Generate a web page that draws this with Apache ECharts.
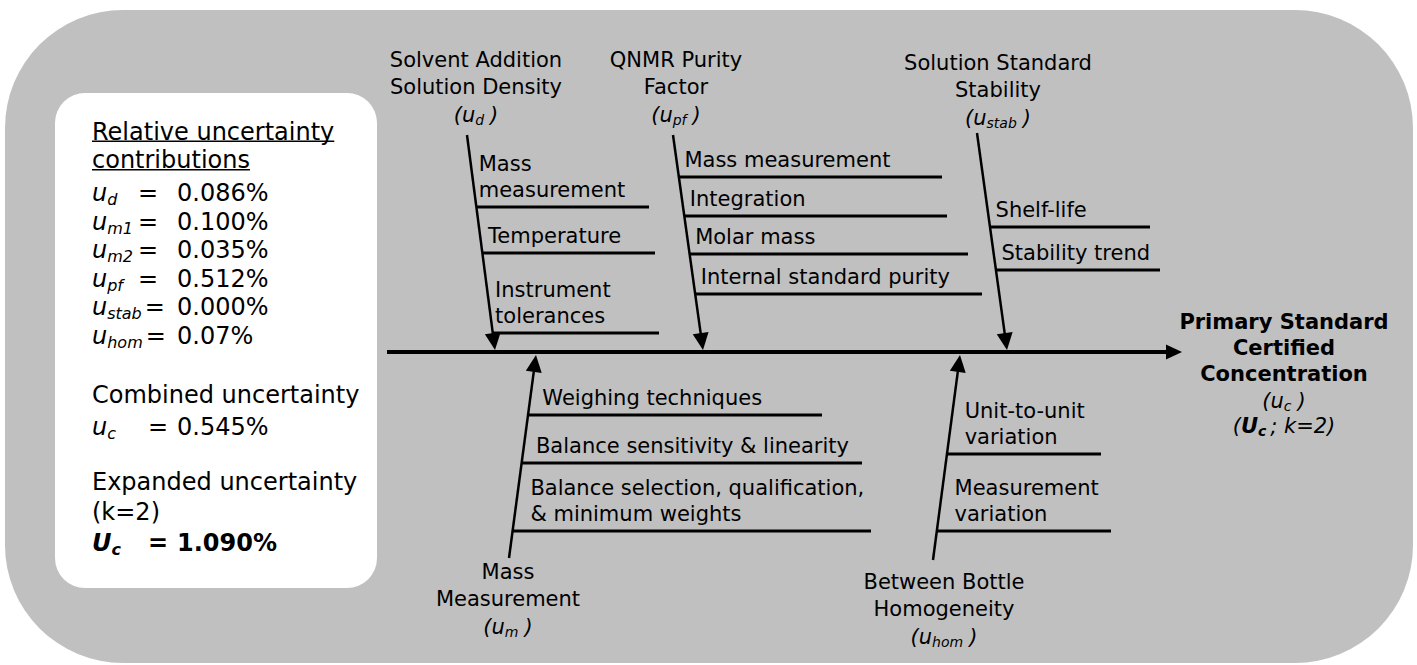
<!DOCTYPE html>
<html>
<head>
<meta charset="utf-8">
<script src="https://cdn.jsdelivr.net/npm/echarts@6.0.0/dist/echarts.min.js"></script>
<style>
html, body { margin: 0; padding: 0; background: #fff; }
#main { width: 1417px; height: 665px; }
</style>
</head>
<body>
<div id="main"></div>
<script>
// ---------- data ----------
var branchNames = [
  ['Solvent Addition', 'Solution Density'],
  ['QNMR Purity', 'Factor'],
  ['Solution Standard', 'Stability'],
  ['Mass', 'Measurement'],
  ['Between Bottle', 'Homogeneity']
];
var branchSymbols = ['d', 'pf', 'stab', 'm', 'hom'];
var branchCauses = [
  [['Mass', 'measurement'], ['Temperature'], ['Instrument', 'tolerances']],
  [['Mass measurement'], ['Integration'], ['Molar mass'], ['Internal standard purity']],
  [['Shelf-life'], ['Stability trend']],
  [['Weighing techniques'], ['Balance sensitivity & linearity'], ['Balance selection, qualification,', '& minimum weights']],
  [['Unit-to-unit', 'variation'], ['Measurement', 'variation']]
];
var contribSymbols = ['d', 'm1', 'm2', 'pf', 'stab', 'hom'];
var contribValues = ['0.086%', '0.100%', '0.035%', '0.512%', '0.000%', '0.07%'];
var combinedValue = '0.545%';
var expandedValue = '1.090%';
var coverageK = 2;
var effectLines = ['Primary Standard', 'Certified', 'Concentration'];

// ---------- layout (pixel space of the hidden axes) ----------
var INK = '#000';
var FAMILY = '"DejaVu Sans", Verdana, sans-serif';
var spine = { x0: 387, tip: 1182, y: 352 };
var branchTail = [[467, 135], [673, 135], [977, 133], [509, 558], [933, 560]];
var branchTip = [[495, 350], [703, 350], [1007, 350], [536, 355], [960, 355]];
var titlePos = [[476, 60], [676, 60], [998, 63], [508, 572], [944, 582]];
var causeY = [[207, 253, 333], [177, 216, 254, 294], [227, 270], [415, 463, 531], [454, 531]];
var causeEnd = [[649, 655, 659], [942, 947, 968, 982], [1150, 1160], [822, 862, 871], [1101, 1111]];
var box = { x: 92, head: 131.7, head2: 160.2, row0: 193, rowStep: 28.5, combined: 395, uc: 426.7,
            expanded: 481.7, k: 511.7, Uc: 543, eqMin: 138, eqTotal: 148, valueX: 177 };
var effect = { x: 1284, y: 321.7, step: 26 };

var F21 = { size: 21 }, I21 = { size: 21, style: 'italic' }, I14 = { size: 14, style: 'italic' };
var B21 = { size: 21, weight: 'bold' }, BI21 = { size: 21, style: 'italic', weight: 'bold' };
var BI14 = { size: 14, style: 'italic', weight: 'bold' };
var F24 = { size: 24 }, I24 = { size: 24, style: 'italic' }, I16 = { size: 16, style: 'italic' };
var B24 = { size: 24, weight: 'bold' }, BI24 = { size: 24, style: 'italic', weight: 'bold' };
var BI16 = { size: 16, style: 'italic', weight: 'bold' };

var measureCtx = document.createElement('canvas').getContext('2d');
function fontStr(o) { return (o.style || 'normal') + ' ' + (o.weight || 'normal') + ' ' + o.size + 'px ' + FAMILY; }
function textW(str, o) { measureCtx.font = fontStr(o); return measureCtx.measureText(str).width; }

function textEl(x, y, str, o, align) {
  return { type: 'text', style: { x: x, y: y, text: str, fill: INK, fontSize: o.size, fontFamily: FAMILY,
    fontStyle: o.style || 'normal', fontWeight: o.weight || 'normal', align: align || 'left', verticalAlign: 'middle' } };
}
function lineEl(a, b, w) {
  return { type: 'line', shape: { x1: a[0], y1: a[1], x2: b[0], y2: b[1] }, style: { stroke: INK, lineWidth: w } };
}
// pieces written one after another: {t, f, dy, gap}
function runEls(pieces, x, y, align) {
  var total = 0;
  pieces.forEach(function (p) { total += (p.gap || 0) + textW(p.t, p.f); });
  var cx = align === 'center' ? x - total / 2 : x;
  return pieces.map(function (p) {
    cx += p.gap || 0;
    var el = textEl(cx, y + (p.dy || 0), p.t, p.f, 'left');
    cx += textW(p.t, p.f);
    return el;
  });
}
function arrowHead(tip, ux, uy, len, half) {
  var bx = tip[0] - ux * len, by = tip[1] - uy * len;
  return { type: 'polygon', shape: { points: [tip, [bx - uy * half, by + ux * half], [bx + uy * half, by - ux * half]] },
    style: { fill: INK } };
}

function renderBranch(params, api) {
  var i = params.dataIndex;
  var tip = api.coord([api.value(0), api.value(1)]);
  var tail = api.coord(branchTail[i]);
  var up = tail[1] < tip[1];
  var dx = tip[0] - tail[0], dy = tip[1] - tail[1], len = Math.sqrt(dx * dx + dy * dy);
  var ux = dx / len, uy = dy / len, headLen = 16;
  var kids = [];
  kids.push(lineEl(tail, [tip[0] - ux * headLen, tip[1] - uy * headLen], 2.5));
  kids.push(arrowHead(tip, ux, uy, headLen + 1, 8));
  function xAt(y) { return tail[0] + (y - tail[1]) * dx / dy; }
  branchCauses[i].forEach(function (c, k) {
    var yu = api.coord([0, causeY[i][k]])[1];
    var xe = api.coord([causeEnd[i][k], 0])[0];
    kids.push(lineEl([xAt(yu), yu], [xe, yu], 3));
    var y0 = yu - 17.5 - (c.length - 1) * 26;
    var lx = xAt(y0) + (up ? 8 : 12);
    c.forEach(function (txt, j) { kids.push(textEl(lx, y0 + j * 26, txt, F21)); });
  });
  var tp = api.coord(titlePos[i]);
  var names = branchNames[i];
  names.forEach(function (n, j) { kids.push(textEl(tp[0], tp[1] + j * 26.5, n, F21, 'center')); });
  kids = kids.concat(runEls([
    { t: '(', f: I21 }, { t: 'u', f: I21 }, { t: branchSymbols[i], f: I14, dy: 5.5 }, { t: ')', f: I21, gap: 6 }
  ], tp[0], tp[1] + names.length * 26.5 + 1.5, 'center'));
  return { type: 'group', children: kids };
}

function renderSpine(params, api) {
  var a = api.coord([spine.x0, spine.y]), b = api.coord([spine.tip, spine.y]);
  return { type: 'group', children: [lineEl(a, [b[0] - 15, b[1]], 4), arrowHead(b, 1, 0, 16, 7.5)] };
}

function renderBox(params, api) {
  var kids = [];
  var p = api.coord([box.x, box.head]);
  [['Relative uncertainty', box.head], ['contributions', box.head2]].forEach(function (h) {
    var q = api.coord([box.x, h[1]]);
    kids.push(textEl(q[0], q[1], h[0], F24));
    kids.push(lineEl([q[0], q[1] + 9.5], [q[0] + textW(h[0], F24), q[1] + 9.5], 1.5));
  });
  var vx = api.coord([box.valueX, 0])[0];
  contribSymbols.forEach(function (s, k) {
    var q = api.coord([box.x, box.row0 + k * box.rowStep]);
    kids = kids.concat(runEls([{ t: 'u', f: I24 }, { t: s, f: I16, dy: 6.5 }], q[0], q[1], 'left'));
    var eqX = Math.max(api.coord([box.eqMin, 0])[0], q[0] + textW('u', I24) + textW(s, I16) + 3);
    kids.push(textEl(eqX, q[1], '=', F24));
    kids.push(textEl(vx, q[1], contribValues[k], F24));
  });
  var eqT = api.coord([box.eqTotal, 0])[0];
  var q = api.coord([box.x, box.combined]);
  kids.push(textEl(q[0], q[1], 'Combined uncertainty', F24));
  q = api.coord([box.x, box.uc]);
  kids = kids.concat(runEls([{ t: 'u', f: I24 }, { t: 'c', f: I16, dy: 6.5 }], q[0], q[1], 'left'));
  kids.push(textEl(eqT, q[1], '=', F24));
  kids.push(textEl(vx, q[1], combinedValue, F24));
  q = api.coord([box.x, box.expanded]);
  kids.push(textEl(q[0], q[1], 'Expanded uncertainty', F24));
  q = api.coord([box.x, box.k]);
  kids.push(textEl(q[0], q[1], '(k=' + coverageK + ')', F24));
  q = api.coord([box.x, box.Uc]);
  kids = kids.concat(runEls([{ t: 'U', f: BI24 }, { t: 'c', f: BI16, dy: 6.5 }], q[0], q[1], 'left'));
  kids.push(textEl(eqT, q[1], '=', B24));
  kids.push(textEl(vx, q[1], expandedValue, B24));
  return { type: 'group', children: kids };
}

function renderEffect(params, api) {
  var p = api.coord([effect.x, effect.y]);
  var kids = effectLines.map(function (t, j) { return textEl(p[0], p[1] + j * effect.step, t, B21, 'center'); });
  var y1 = p[1] + effectLines.length * effect.step + 1;
  kids = kids.concat(runEls([{ t: '(', f: I21 }, { t: 'u', f: I21 }, { t: 'c', f: I14, dy: 5.5 }, { t: ')', f: I21, gap: 6 }],
    p[0], y1, 'center'));
  kids = kids.concat(runEls([{ t: '(', f: I21 }, { t: 'U', f: BI21 }, { t: 'c', f: BI14, dy: 5.5 },
    { t: '; k=' + coverageK + ')', f: I21, gap: 4 }], p[0], y1 + 25, 'center'));
  return { type: 'group', children: kids };
}

var chart = echarts.init(document.getElementById('main'), null, { renderer: 'svg' });
chart.setOption({
  animation: false,
  backgroundColor: '#fff',
  grid: { left: 0, right: 0, top: 0, bottom: 0 },
  xAxis: { type: 'value', min: 0, max: 1417, show: false },
  yAxis: { type: 'value', min: 0, max: 665, inverse: true, show: false },
  graphic: [
    { type: 'rect', z: -10, shape: { x: 5, y: 10, width: 1408, height: 653, r: 118 }, style: { fill: '#c0c0c0' } },
    { type: 'rect', z: -9, shape: { x: 55, y: 93, width: 322, height: 495, r: 30 }, style: { fill: '#fff' } }
  ],
  series: [
    { type: 'custom', name: 'spine', silent: true, renderItem: renderSpine, data: [[spine.tip, spine.y]] },
    { type: 'custom', name: 'branches', silent: true, renderItem: renderBranch,
      data: branchNames.map(function (n, i) { return branchTip[i]; }) },
    { type: 'custom', name: 'contributions', silent: true, renderItem: renderBox, data: [[box.x, box.head]] },
    { type: 'custom', name: 'effect', silent: true, renderItem: renderEffect, data: [[effect.x, effect.y]] }
  ]
});
</script>
</body>
</html>
